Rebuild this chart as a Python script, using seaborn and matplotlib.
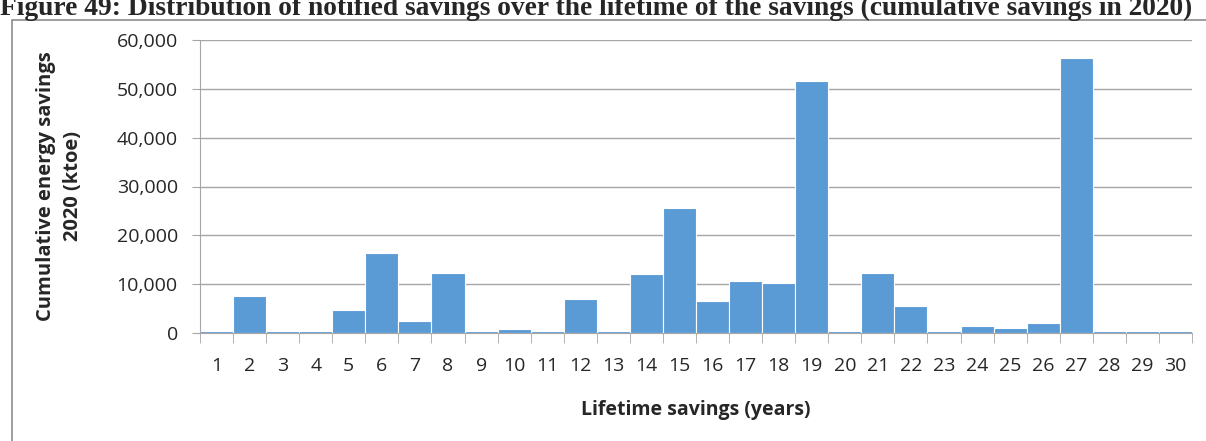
import numpy as np
import pandas as pd
import seaborn as sns
import matplotlib.pyplot as plt
from matplotlib.patches import Rectangle
from matplotlib.ticker import FuncFormatter

# Lifetime of savings (years) and cumulative savings in 2020 (ktoe)
years = list(range(1, 31))
savings = [450, 7500, 450, 450, 4700, 16400, 2500, 12300, 450, 750,
           450, 7000, 450, 12000, 25600, 6500, 10700, 10200, 51600, 450,
           12200, 5500, 450, 1500, 1000, 2000, 56300, 450, 450, 450]

df = pd.DataFrame({'Lifetime': years, 'Savings': savings})

sns.set_style('white')
plt.rcParams['font.family'] = ['Open Sans', 'DejaVu Sans']

fig = plt.figure(figsize=(12.06, 4.41), dpi=100)

# Outer frame like the Excel chart area
fig.patches.append(Rectangle((12 / 1206, -0.1), 1.1, 1 - 20 / 441 + 0.1,
                             transform=fig.transFigure, fill=False,
                             edgecolor='#8c8c8c', linewidth=1.2))

fig.text(0.0, 1 - 15 / 441, 'Figure 49: Distribution of notified savings over the lifetime of the savings (cumulative savings in 2020)',
         ha='left', va='baseline', fontsize=19.8, fontweight='bold',
         family=['Liberation Serif', 'DejaVu Serif'])

ax = fig.add_axes([200 / 1206, 1 - 333 / 441, 992 / 1206, 293 / 441])
sns.barplot(data=df, x='Lifetime', y='Savings', color='#5b9bd5', saturation=1,
            width=1.0, edgecolor='white', linewidth=0.8, ax=ax)

ax.set_ylim(0, 60000)
ax.set_yticks(np.arange(0, 60001, 10000))
ax.yaxis.set_major_formatter(FuncFormatter(lambda v, p: f'{int(v):,}'))
ax.set_xlim(-0.5, 29.5)
ax.grid(axis='y', color='#a6a6a6', linewidth=1.0)
ax.set_axisbelow(True)

for s in ['top', 'right']:
    ax.spines[s].set_visible(False)
ax.spines['left'].set_color('#a6a6a6')
ax.spines['bottom'].set_color('#a6a6a6')

# category boundary ticks on x axis
ax.set_xticks(np.arange(-0.5, 30, 1), minor=True)
ax.tick_params(axis='x', which='minor', length=7, color='#a6a6a6', direction='out', bottom=True)
ax.tick_params(axis='x', which='major', length=0, labelsize=14, pad=17)
ax.tick_params(axis='y', length=6, color='#a6a6a6', direction='out', left=True, labelsize=14, pad=10)

ax.set_xlabel('Lifetime savings (years)', fontsize=14, fontweight='bold', labelpad=18)
ax.set_ylabel('Cumulative energy savings\n2020 (ktoe)', fontsize=14.5, fontweight='bold', labelpad=24,
              linespacing=1.45)

fig.savefig('out.png', dpi=100)
